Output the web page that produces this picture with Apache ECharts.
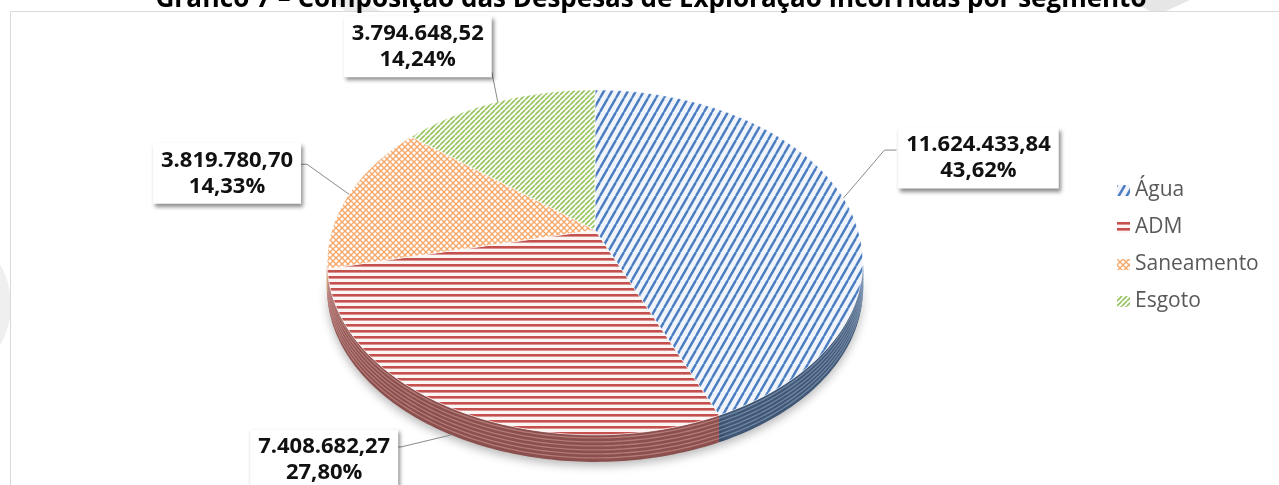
<!DOCTYPE html>
<html>
<head>
<meta charset="utf-8">
<script src="https://cdn.jsdelivr.net/npm/echarts@6/dist/echarts.min.js"></script>
<style>
  html, body { margin: 0; padding: 0; background: #ffffff; }
  #chart { width: 1279px; height: 485px; }
</style>
</head>
<body>
<div id="chart"></div>
<script>
// ---- data ----
const categories = ['Água', 'ADM', 'Saneamento', 'Esgoto'];
const values = [11624433.84, 7408682.27, 3819780.70, 3794648.52];
const titleText = 'Gráfico 7 – Composição das Despesas de Exploração Incorridas por segmento';

const total = values.reduce((a, b) => a + b, 0);
const cumBefore = values.map((v, i) => values.slice(0, i).reduce((a, b) => a + b, 0));

// pt-BR number formatting
function fmtNumber(v, dec) {
  const parts = v.toFixed(dec).split('.');
  const int = parts[0].replace(/\B(?=(\d{3})+(?!\d))/g, '.');
  return parts[1] ? int + ',' + parts[1] : int;
}

// ---- pattern tiles for the hatched fills ----
function tile(w, h, paint) {
  const c = document.createElement('canvas');
  c.width = w; c.height = h;
  paint(c.getContext('2d'), w, h);
  return c;
}
function diag(g, w, h, color, lw) {
  g.strokeStyle = color; g.lineWidth = lw;
  for (let k = -1; k <= 1; k++) {
    g.beginPath(); g.moveTo(k * w, h); g.lineTo(k * w + w, 0); g.stroke();
  }
}
function diagBack(g, w, h, color, lw) {
  g.strokeStyle = color; g.lineWidth = lw;
  for (let k = -1; k <= 1; k++) {
    g.beginPath(); g.moveTo(k * w, 0); g.lineTo(k * w + w, h); g.stroke();
  }
}
const patternTiles = [
  tile(8, 14, (g, w, h) => { g.fillStyle = '#f1f5fb'; g.fillRect(0, 0, w, h); diag(g, w, h, '#4a7cc2', 2.4); }),
  tile(6, 6, (g, w, h) => { g.fillStyle = '#fdf5f4'; g.fillRect(0, 0, w, h); g.fillStyle = '#c4514e'; g.fillRect(0, 0, w, 2.6); }),
  tile(6, 6, (g, w, h) => { g.fillStyle = '#ffffff'; g.fillRect(0, 0, w, h); diag(g, w, h, '#f6a96b', 1.4); diagBack(g, w, h, '#f6a96b', 1.4); }),
  tile(5, 5, (g, w, h) => { g.fillStyle = '#ffffff'; g.fillRect(0, 0, w, h); diag(g, w, h, '#98c460', 1.7); })
];
const fills = patternTiles.map(c => ({ image: c, repeat: 'repeat' }));
const sideFill = ['#3f5674', '#8b4f4d', '#a8774f', '#6f8a45'];
const sideLine = ['#7f95b3', '#c08a87', '#d4a87f', '#a7c07c'];

// ---- 3D pie geometry (perspective-projected disc) ----
const pie = { cx: 595, cy: 230, rx: 263, ry: 166.4, persp: 0.188, depth: 27 };
function proj(deg, drop) {
  const t = deg * Math.PI / 180;
  const s = 1 / (1 + pie.persp * Math.cos(t));
  return [pie.cx + pie.rx * Math.sin(t) * s, pie.cy - pie.ry * Math.cos(t) * s + (drop || 0)];
}
function rim(a0, a1, drop) {
  const pts = [];
  const n = Math.max(2, Math.ceil(Math.abs(a1 - a0)));
  for (let i = 0; i <= n; i++) pts.push(proj(a0 + (a1 - a0) * i / n, drop));
  return pts;
}
const silL = 180 - Math.acos(pie.persp) * 180 / Math.PI; // front silhouette limits
const silR = 180 + Math.acos(pie.persp) * 180 / Math.PI;

// label box placement, relative to the slice's rim anchor
const labelLayout = [
  { box: [135, -40], line: [[41, -48], [53, -48]] },
  { box: [-127, 25], line: [[-50, 12], [-56, 12]] },
  { box: [-122, -21], line: [[-42, -30], [-48, -30]] },
  { box: [-80, -55], line: [[-6, -30], [-12, -30]] }
];

function renderSlice(params, api) {
  const i = params.seriesIndex;
  const a0 = api.value(0) / total * 360;
  const a1 = (api.value(0) + api.value(1)) / total * 360;
  const children = [];

  // front side wall
  const s0 = Math.max(a0, silL), s1 = Math.min(a1, silR);
  if (s1 > s0) {
    const top = rim(s0, s1, 0);
    const bottom = rim(s1, s0, pie.depth);
    children.push({
      type: 'polygon', z2: 1,
      shape: { points: top.concat(bottom) },
      style: { fill: sideFill[i], shadowColor: 'rgba(0,0,0,0.28)', shadowBlur: 10, shadowOffsetY: 4 }
    });
    for (let d = 3; d < pie.depth; d += 4) {
      children.push({
        type: 'polyline', z2: 2,
        shape: { points: rim(s0, s1, d) },
        style: { stroke: sideLine[i], lineWidth: 1.3, fill: null, opacity: 0.75 }
      });
    }
  }

  // top face
  children.push({
    type: 'polygon', z2: 3,
    shape: { points: [[pie.cx, pie.cy]].concat(rim(a0, a1, 0)) },
    style: { fill: fills[i], stroke: 'rgba(255,255,255,0.7)', lineWidth: 0.8 }
  });

  // leader line + value label
  const mid = (a0 + a1) / 2;
  const onFront = mid > silL && mid < silR;
  const anchor = proj(mid, onFront ? pie.depth : 0);
  const lay = labelLayout[i];
  const pts = [anchor].concat(lay.line.map(o => [anchor[0] + o[0], anchor[1] + o[1]]));
  children.push({
    type: 'polyline', z2: 5,
    shape: { points: pts },
    style: { stroke: '#8a8a8a', lineWidth: 1, fill: null }
  });
  const pct = api.value(1) / total * 100;
  children.push({
    type: 'text', z2: 6,
    style: {
      text: fmtNumber(api.value(1), 2) + '\n' + fmtNumber(pct, 2) + '%',
      x: anchor[0] + lay.box[0], y: anchor[1] + lay.box[1],
      align: 'center', verticalAlign: 'middle',
      font: 'bold 22px "Open Sans"', lineHeight: 26, fill: '#111111',
      backgroundColor: '#ffffff', padding: [4, 8, 5, 8],
      shadowColor: 'rgba(0,0,0,0.45)', shadowBlur: 4, shadowOffsetX: 2, shadowOffsetY: 3
    }
  });
  return { type: 'group', children: children };
}

const chart = echarts.init(document.getElementById('chart'), null, { renderer: 'canvas' });
chart.setOption({
  backgroundColor: '#ffffff',
  animation: false,
  legend: {
    orient: 'vertical', left: 1112, top: 175,
    itemWidth: 13, itemHeight: 11, itemGap: 16, icon: 'rect',
    textStyle: { fontFamily: 'Open Sans', fontSize: 21, color: '#595959' },
    data: categories
  },
  graphic: [
    { type: 'circle', shape: { cx: -70, cy: 305, r: 75 }, style: { fill: null, stroke: '#efefef', lineWidth: 12 }, silent: true, z: -1 },
    { type: 'polygon', shape: { points: [[1128, 0], [1190, 0], [1166, 11], [1150, 11]] }, style: { fill: '#e6e6e6' }, silent: true, z: -1 },
    { type: 'polygon', shape: { points: [[332, 0], [360, 0], [380, 11], [345, 11]] }, style: { fill: '#ececec' }, silent: true, z: -1 },
    { type: 'rect', shape: { x: 10.5, y: 11.5, width: 1290, height: 500 }, style: { fill: null, stroke: '#d9d9d9', lineWidth: 1 }, silent: true, z: 0 },
    { type: 'text', style: { text: titleText, x: 651, y: 0, align: 'center', verticalAlign: 'middle', font: 'bold 26px "Open Sans"', fill: '#000000' }, silent: true, z: 1 }
  ],
  series: categories.map((name, i) => ({
    type: 'custom',
    name: name,
    coordinateSystem: 'none',
    itemStyle: { color: fills[i] },
    renderItem: renderSlice,
    data: [[cumBefore[i], values[i]]]
  }))
});
</script>
</body>
</html>
